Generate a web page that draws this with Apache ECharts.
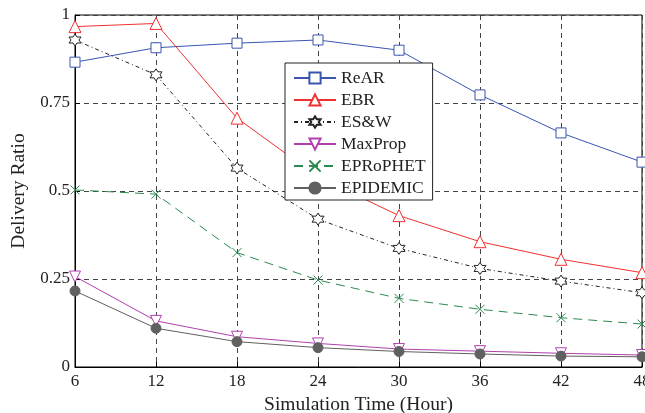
<!DOCTYPE html>
<html>
<head>
<meta charset="utf-8">
<script src="https://cdn.jsdelivr.net/npm/echarts@6/dist/echarts.min.js"></script>
<style>
  html, body { margin: 0; padding: 0; background: #fff; }
  #chart { width: 645px; height: 413px; }
</style>
</head>
<body>
<div id="chart"></div>
<script>
// simulation time (hours)
var hours = [6, 12, 18, 24, 30, 36, 42, 48];
var yTicks = [0, 0.25, 0.5, 0.75, 1];

var rear = [0.866, 0.907, 0.920, 0.929, 0.900, 0.773, 0.665, 0.582];
var ebr = [0.967, 0.976, 0.707, 0.540, 0.430, 0.356, 0.306, 0.268];
var esw = [0.929, 0.830, 0.565, 0.420, 0.337, 0.280, 0.244, 0.211];
var maxprop = [0.257, 0.131, 0.086, 0.067, 0.051, 0.045, 0.039, 0.034];
var eprophet = [0.503, 0.491, 0.325, 0.247, 0.195, 0.164, 0.140, 0.122];
var epidemic = [0.216, 0.110, 0.072, 0.055, 0.044, 0.037, 0.031, 0.029];

var serif = "Liberation Serif";
var hexagram = "path://M0,-10 L2.89,-5 L8.66,-5 L5.77,0 L8.66,5 L2.89,5 L0,10 L-2.89,5 L-8.66,5 L-5.77,0 L-8.66,-5 L-2.89,-5 Z";
var cross = "path://M-5,-5 L5,5 M5,-5 L-5,5";

function pairs(vals) {
  return hours.map(function (h, i) { return [h, vals[i]]; });
}

function mkSeries(name, vals, color, symbol, size, lineType, filled, rotate) {
  return {
    name: name,
    type: "line",
    data: pairs(vals),
    symbol: symbol,
    symbolSize: size,
    symbolRotate: rotate || 0,
    showAllSymbol: true,
    lineStyle: { color: color, width: 1, type: lineType },
    itemStyle: {
      color: filled ? color : "#fff",
      borderColor: color,
      borderWidth: 1
    },
    emphasis: { disabled: true },
    animation: false
  };
}

var myChart = echarts.init(document.getElementById("chart"));
var option = {
  backgroundColor: "#fff",
  grid: {
    left: 75, right: 3, top: 15, bottom: 46,
    outerBoundsMode: "none",
    containLabel: false,
    show: true, borderColor: "#000", borderWidth: 1
  },
  legend: {
    orient: "vertical",
    left: 285,
    top: 63,
    padding: [6, 7, 3, 8],
    itemWidth: 42,
    itemHeight: 14,
    itemGap: 4,
    backgroundColor: "#fff",
    borderColor: "#222",
    borderWidth: 1,
    textStyle: { fontFamily: serif, fontSize: 17.5, color: "#222" },
    data: ["ReAR", "EBR", "ES&W", "MaxProp", "EPRoPHET", "EPIDEMIC"]
  },
  xAxis: {
    type: "value",
    min: 6, max: 48, interval: 6,
    name: "Simulation Time (Hour)",
    nameLocation: "middle",
    nameGap: 25,
    nameTextStyle: { fontFamily: serif, fontSize: 19.5, color: "#222" },
    axisLine: { lineStyle: { color: "#000" } },
    axisTick: { inside: true, length: 5, lineStyle: { color: "#000" } },
    axisLabel: { fontFamily: serif, fontSize: 17, color: "#222", margin: 6 },
    splitLine: { show: true, lineStyle: { color: "#444", type: [5, 4] } }
  },
  yAxis: {
    type: "value",
    min: yTicks[0], max: yTicks[yTicks.length - 1], interval: 0.25,
    name: "Delivery Ratio",
    nameLocation: "middle",
    nameGap: 42,
    nameTextStyle: { fontFamily: serif, fontSize: 19.5, color: "#222" },
    axisLine: { show: true, lineStyle: { color: "#000" } },
    axisTick: { show: true, inside: true, length: 5, lineStyle: { color: "#000" } },
    axisLabel: { fontFamily: serif, fontSize: 17, color: "#222", margin: 5 },
    splitLine: { show: true, lineStyle: { color: "#444", type: [5, 4] } }
  },
  series: [
    mkSeries("ReAR", rear, "#3a55b0", "rect", 10, "solid", false),
    mkSeries("EBR", ebr, "#f03030", "triangle", 12, "solid", false),
    mkSeries("ES&W", esw, "#222", hexagram, 12, [4, 3, 1, 3], false),
    mkSeries("MaxProp", maxprop, "#b040b0", "triangle", 11, "solid", false, 180),
    mkSeries("EPRoPHET", eprophet, "#2a8a50", cross, 9, [9, 6], false),
    mkSeries("EPIDEMIC", epidemic, "#606060", "circle", 10, "solid", true)
  ]
};
myChart.setOption(option);
</script>
</body>
</html>
